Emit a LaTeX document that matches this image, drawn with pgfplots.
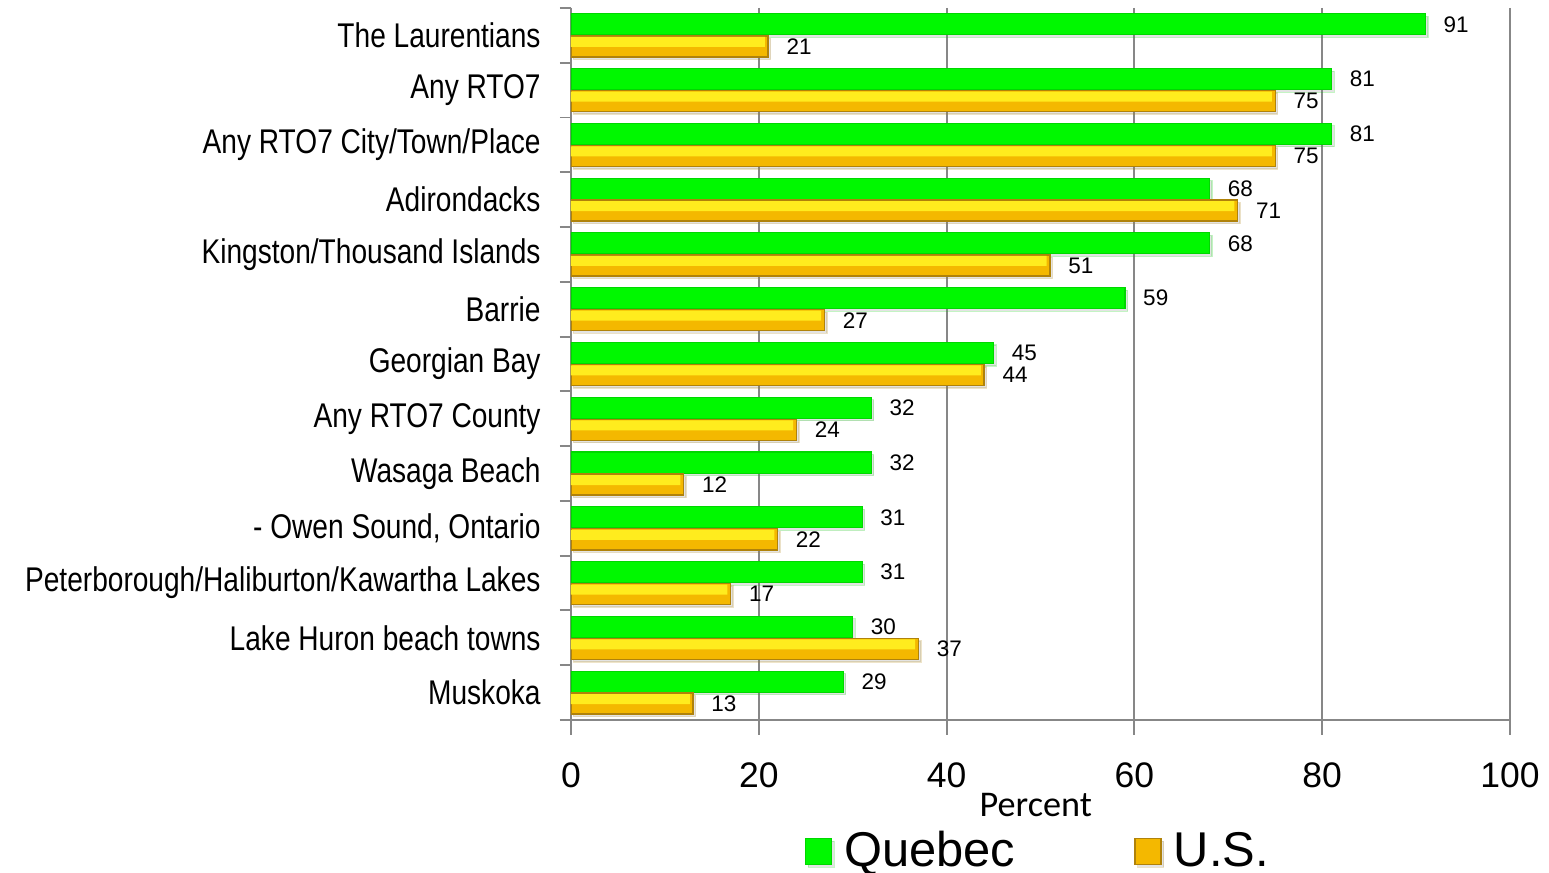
\documentclass[border=0pt]{standalone}
\usepackage{fontspec}
\setmainfont{Liberation Sans}
\newfontfamily\narrowfont{Liberation Sans}[FakeStretch=0.82]
\newfontfamily\calibri{Carlito}
\usepackage{pgfplots}
\pgfplotsset{compat=1.18}
\usepackage{pgfplotstable}
\usetikzlibrary{shadows}

\definecolor{qgreen}{RGB}{0,248,0}
\definecolor{qgreenlo}{RGB}{0,215,0}
\definecolor{usyel}{RGB}{255,236,30}
\definecolor{usgold}{RGB}{244,184,0}
\definecolor{usedge}{RGB}{176,130,10}
\definecolor{axgray}{RGB}{135,135,135}

% y = category index (0 = top)
\pgfplotstableread{
y quebec us
0  91 21
1  81 75
2  81 75
3  68 71
4  68 51
5  59 27
6  45 44
7  32 24
8  32 12
9  31 22
10 31 17
11 30 37
12 29 13
}\datatable

\begin{document}
\begin{tikzpicture}
\useasboundingbox (-5.71,-1.53) rectangle (9.78,7.20);
\begin{axis}[
    scale only axis,
    width=9.39cm, height=7.12cm,
    xbar, bar width=0.21cm,
    y dir=reverse,
    xmin=0, xmax=100,
    ymin=-0.5, ymax=12.5,
    xtick={0,20,...,100},
    ytick={0,...,12},
    yticklabels={The Laurentians, Any RTO7, Any RTO7 City/Town/Place, Adirondacks,
        Kingston/Thousand Islands, Barrie, Georgian Bay, Any RTO7 County, Wasaga Beach,
        - Owen Sound{,} Ontario, Peterborough/Haliburton/Kawartha Lakes\hspace{0.08cm},
        Lake Huron beach towns, Muskoka},
    minor ytick={-0.5,0.5,...,12.5},
    axis x line*=bottom, axis y line*=left,
    axis line style={axgray, line width=0.55pt},
    tick style={axgray, line width=0.55pt},
    tick align=outside,
    major tick length=0.15cm, minor tick length=0.11cm,
    major y tick style={draw=none},
    xmajorgrids,
    major grid style={axgray, line width=0.55pt},
    yticklabel style={font=\narrowfont\fontsize{9.75}{11}\selectfont, xshift=-0.03cm},
    xticklabel style={font=\fontsize{10.1}{12}\selectfont, yshift=-0.15cm},
    /pgf/number format/assume math mode=true,
    xlabel={Percent},
    xlabel style={font=\calibri\fontsize{10.3}{12}\selectfont, at={(axis description cs:0.495,-0.119)}, anchor=center},
    every node near coord/.append style={font=\fontsize{6.4}{8}\selectfont, text=black, anchor=west, xshift=0.06cm},
    legend columns=2,
    legend style={at={(axis description cs:0.5,-0.185)}, anchor=center, draw=none,
        font=\fontsize{13.9}{16}\selectfont, /tikz/column 2/.style={column sep=1.12cm},
        /tikz/column 1/.style={column sep=0.05cm}, /tikz/column 3/.style={column sep=0.05cm}},
    legend image code/.code={\draw[#1] (0cm,-0.13cm) rectangle (0.26cm,0.13cm);},
]
% Quebec (upper bar of each pair)
\addplot[xbar, bar shift=0.11cm, draw=qgreenlo, line width=0.3pt, fill=qgreen,
    nodes near coords,
    drop shadow={shadow xshift=0.025cm, shadow yshift=-0.025cm, opacity=0.22}]
    table[x=quebec, y=y] {\datatable};
\addlegendentry{Quebec}
% U.S. (lower bar of each pair)
\addplot[xbar, bar shift=-0.11cm, draw=usedge, line width=0.4pt, fill=usgold,
    nodes near coords,
    drop shadow={shadow xshift=0.025cm, shadow yshift=-0.025cm, opacity=0.22}]
    table[x=us, y=y] {\datatable};
\addlegendentry{U.S.}
% bright upper band of the U.S. bars
\addplot[xbar, forget plot, bar shift=-0.065cm, bar width=0.1cm, draw=none, fill=usyel]
    table[x expr=\thisrow{us}-0.35, y=y] {\datatable};
\end{axis}
\end{tikzpicture}
\end{document}
